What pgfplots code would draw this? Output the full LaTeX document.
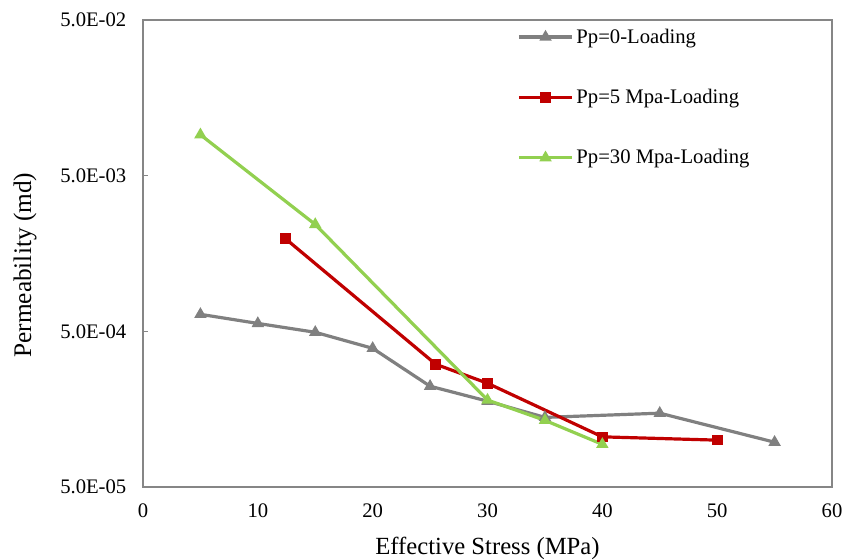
\documentclass[border=0pt]{standalone}
\usepackage{pgfplots}
\pgfplotsset{compat=1.18}
\usepackage{fontspec}
\setmainfont{Liberation Serif}

\definecolor{sgray}{RGB}{128,128,128}
\definecolor{sred}{RGB}{192,0,0}
\definecolor{sgreen}{RGB}{146,208,80}
\definecolor{frame}{RGB}{134,134,134}

\begin{document}
\begin{tikzpicture}
\begin{axis}[
    scale only axis,
    width=516.75pt, height=350.25pt,
    font=\fontsize{15.5}{18}\selectfont,
    /pgf/number format/assume math mode=true,
    xmin=0, xmax=60,
    ymode=log,
    ymin=5e-5, ymax=5e-2,
    xtick={0,10,20,30,40,50,60},
    ytick={5e-5,5e-4,5e-3,5e-2},
    yticklabels={5.0E-05,5.0E-04,5.0E-03,5.0E-02},
    yminorticks=false,
    ytick pos=left,
    axis line style={frame, line width=1pt},
    xtick style={draw=none},
    ytick style={frame, line width=1pt},
    tick align=inside,
    major tick length=4pt,
    yticklabel style={xshift=-9pt},
    xticklabel style={yshift=-9pt},
    xlabel={Effective Stress (MPa)},
    ylabel={Permeability (md)},
    xlabel style={at={(axis description cs:0.5,-0.1306)}, anchor=center,
        font=\fontsize{18.5}{22}\selectfont},
    ylabel style={at={(axis description cs:-0.171,0.475)}, anchor=center,
        font=\fontsize{19}{22}\selectfont},
    legend style={draw=none, fill=none, at={(0.537,0.993)}, anchor=north west,
        row sep=29pt, cells={anchor=west}, font=\fontsize{15.5}{18}\selectfont},
    legend image code/.code={
        \draw[mark repeat=2,mark phase=2,#1] plot coordinates {(0pt,0pt) (20pt,0pt) (40pt,0pt)};},
]
\addplot[color=sgray, line width=2.4pt, mark=triangle*, mark size=3pt,
    mark options={solid}] coordinates {
    (5,6.43e-4)
    (10,5.62e-4)
    (15,4.93e-4)
    (20,3.89e-4)
    (25,2.22e-4)
    (30,1.78e-4)
    (35,1.40e-4)
    (45,1.49e-4)
    (55,9.7e-5)
};
\addplot[color=sred, line width=2.4pt, mark=square*, mark size=2.8pt,
    mark options={solid}] coordinates {
    (12.4,1.97e-3)
    (25.5,3.07e-4)
    (30,2.32e-4)
    (40,1.05e-4)
    (50,1.00e-4)
};
\addplot[color=sgreen, line width=2.4pt, mark=triangle*, mark size=3pt,
    mark options={solid}] coordinates {
    (5,9.16e-3)
    (15,2.43e-3)
    (30,1.81e-4)
    (35,1.34e-4)
    (40,9.4e-5)
};
\legend{Pp=0-Loading, Pp=5 Mpa-Loading, Pp=30 Mpa-Loading}
\coordinate (ll) at (rel axis cs:0,0);
\coordinate (ur) at (rel axis cs:1,1);
\end{axis}
\pgfresetboundingbox
\path ([shift={(-107.25pt,-54.75pt)}]ll) rectangle ([shift={(10.5pt,15pt)}]ur);
\end{tikzpicture}
\end{document}
